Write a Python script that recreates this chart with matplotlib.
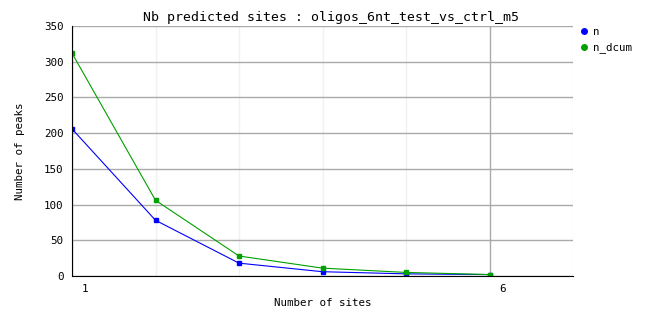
import matplotlib; matplotlib.use('Agg')

import matplotlib.pyplot as plt
import matplotlib.transforms as mtrans
from matplotlib.ticker import MultipleLocator
from matplotlib.lines import Line2D

sites = [1, 2, 3, 4, 5, 6]
n = [206, 78, 18, 6, 3, 2]
n_dcum = [312, 106, 28, 11, 5, 2]

plt.rcParams['font.family'] = 'DejaVu Sans Mono'

fig = plt.figure(figsize=(6.62, 3.28), dpi=100)
ax = fig.add_axes([72/662, 1 - 276/328, (573-72)/662, (276-26)/328])

ax.plot(sites, n, color='#0000ff', lw=0.8, marker='s', ms=2.5, label='n')
ax.plot(sites, n_dcum, color='#00a000', lw=0.8, marker='s', ms=2.5, label='n_dcum')

ax.set_xlim(1, 7)
ax.set_ylim(0, 350)
ax.xaxis.set_minor_locator(MultipleLocator(1))
ax.yaxis.set_major_locator(MultipleLocator(50))
ax.grid(True, which='major', axis='y', color='#aaaaaa', lw=1)
ax.grid(True, which='minor', axis='x', color='#f0f0f0', lw=1)
ax.grid(True, which='major', axis='x', color='#aaaaaa', lw=1)
ax.set_axisbelow(True)
for s in ['top', 'right']:
    ax.spines[s].set_visible(False)
ax.tick_params(axis='both', which='both', length=0, labelsize=7.8)
ax.tick_params(axis='y', pad=6)
ax.tick_params(axis='x', pad=6)
ax.set_xticks([1, 6])
ax.set_xticklabels(['1', '6'], ha='left')
off = mtrans.ScaledTranslation(10/100, 0, fig.dpi_scale_trans)
for lbl in ax.get_xticklabels():
    lbl.set_transform(lbl.get_transform() + off)

ax.set_xlabel('Number of sites', fontsize=7.8, labelpad=3)
ax.set_ylabel('Number of peaks', fontsize=7.8, labelpad=14)
fig.text(331/662, 1 - 18/328, 'Nb predicted sites : oligos_6nt_test_vs_ctrl_m5',
         ha='center', va='center', fontsize=9.5)

handles = [Line2D([], [], color='#0000ff', marker='o', ls='', ms=4),
           Line2D([], [], color='#00a000', marker='o', ls='', ms=4)]
fig.legend(handles, ['n', 'n_dcum'], loc='upper left',
           bbox_to_anchor=(577/662, 1 - 27/328), frameon=False,
           fontsize=7.8, handletextpad=0.3, labelspacing=0.5, handlelength=1.2,
           borderaxespad=0, borderpad=0)

plt.savefig('out.png', dpi=100)
